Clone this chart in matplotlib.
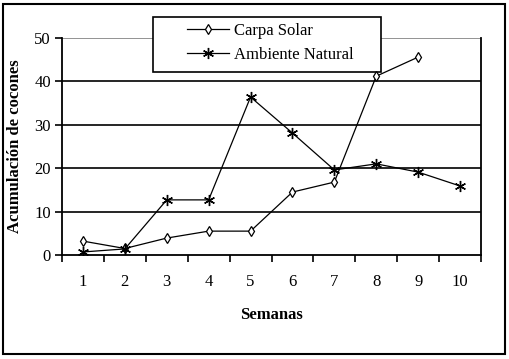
import matplotlib.pyplot as plt
import numpy as np

plt.rcParams['font.family'] = ['Liberation Serif', 'DejaVu Serif']

semanas = [1, 2, 3, 4, 5, 6, 7, 8, 9, 10]
carpa_solar = [3.2, 1.5, 3.9, 5.5, 5.5, 14.5, 16.8, 41.2, 45.6]
ambiente_natural = [0.7, 1.4, 12.7, 12.7, 36.4, 28.1, 19.6, 21.0, 19.1, 15.9]

W, H = 509, 359
fig = plt.figure(figsize=(W/100, H/100), dpi=100)
# marco exterior
fig.patches.append(plt.Rectangle((0.006, 0.014), 0.986, 0.976, transform=fig.transFigure,
                                 fill=False, edgecolor='black', linewidth=1.5))

x0, x1, ytop, ybot = 62, 481, 38, 255
ax = fig.add_axes([x0/W, 1 - ybot/H, (x1 - x0)/W, (ybot - ytop)/H])

ax.plot(semanas[:len(carpa_solar)], carpa_solar, color='black', linewidth=0.9,
        marker='d', markersize=5, markerfacecolor='white', markeredgecolor='black',
        markeredgewidth=0.9, label='Carpa Solar', zorder=7)
ax.plot(semanas, ambiente_natural, color='black', linewidth=0.9,
        marker=(6, 2, 0), markersize=8, markeredgewidth=1.0, label='Ambiente Natural',
        zorder=7)

ax.set_xlim(0.5, 10.5)
ax.set_ylim(0, 50)
ax.set_yticks(np.arange(0, 51, 10))
ax.set_xticks(semanas)
ax.set_xticks(np.arange(0.5, 11, 1), minor=True)
ax.tick_params(axis='x', which='major', length=0, pad=14, labelsize=12)
ax.tick_params(axis='x', which='minor', length=5, width=1.2, direction='out')
ax.tick_params(axis='y', length=5, width=1.2, direction='out', labelsize=12, pad=3)

for v in [10, 20, 30, 40]:
    ax.axhline(v, color='black', linewidth=1.2, zorder=0)
ax.axhline(50, color='#808080', linewidth=1.2, zorder=0)

ax.spines['top'].set_visible(False)
for s in ['left', 'bottom', 'right']:
    ax.spines[s].set_linewidth(1.3)

ax.set_xlabel('Semanas', fontsize=12, fontweight='bold', labelpad=12)
ax.set_ylabel('Acumulación de cocones', fontsize=12, fontweight='bold', labelpad=8)

# leyenda con marco propio (más ancho que el contenido)
def to_ax(px, py):
    return (px - x0) / (x1 - x0), (ybot - py) / (ybot - ytop)

lx0, ly0 = to_ax(153, 72)
lx1, ly1 = to_ax(381, 17)
ax.add_patch(plt.Rectangle((lx0, ly0), lx1 - lx0, ly1 - ly0, transform=ax.transAxes,
                           facecolor='white', edgecolor='black', linewidth=1.2,
                           clip_on=False, zorder=5))
leg = ax.legend(loc='center', bbox_to_anchor=to_ax(270, 43), frameon=False,
                fontsize=12, handlelength=2.5, handletextpad=0.3, labelspacing=0.45,
                borderpad=0, borderaxespad=0)
leg.set_zorder(6)

fig.savefig('out.png', dpi=100)
